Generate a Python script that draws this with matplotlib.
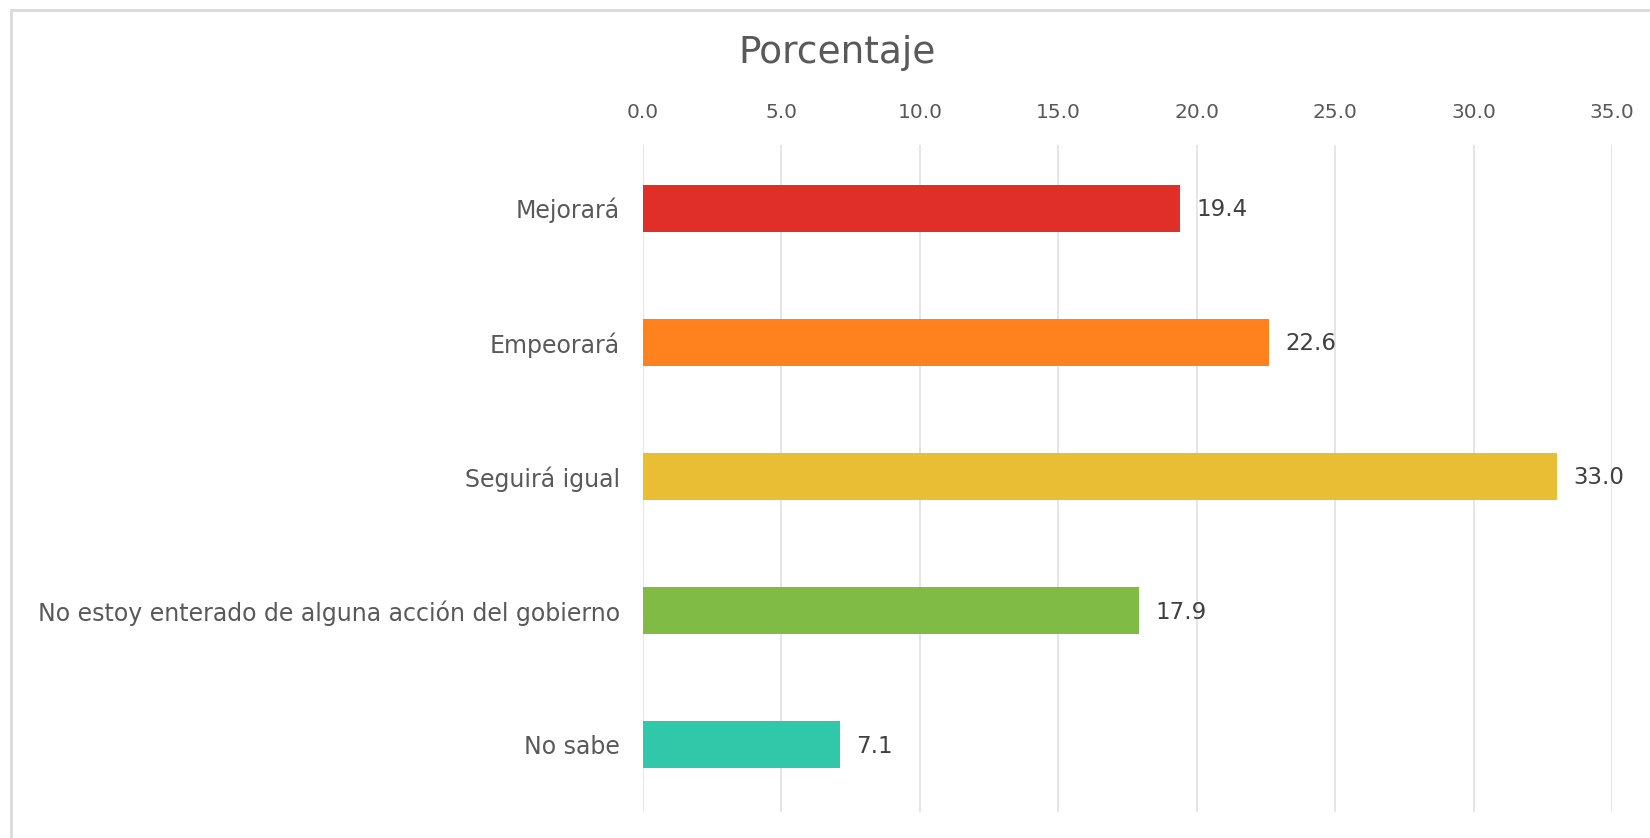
import matplotlib.pyplot as plt
from matplotlib.patches import Rectangle

categorias = ["Mejorará", "Empeorará", "Seguirá igual",
              "No estoy enterado de alguna acción del gobierno", "No sabe"]
valores = [19.4, 22.6, 33.0, 17.9, 7.1]
colores = ["#E02F28", "#FF821E", "#E9BE34", "#80BC45", "#31C7A9"]
ticks = [0, 5, 10, 15, 20, 25, 30, 35]

plt.rcParams['font.family'] = ['DejaVu Sans']

W, H = 1650, 838
fig = plt.figure(figsize=(W / 100, H / 100), dpi=100)

# marco gris del grafico
fig.patches.append(Rectangle((11 / W, -0.1), 1.2, (H - 10) / H + 0.1,
                             transform=fig.transFigure, fill=False,
                             edgecolor="#D9D9D9", lw=2))

ax = fig.add_axes([643 / W, 1 - 812 / H, (1612 - 643) / W, (812 - 145) / H])

y = range(len(categorias))
ax.barh(y, valores, height=0.35, color=colores, zorder=3)

for yi, v in zip(y, valores):
    ax.annotate(f"{v:.1f}", (v, yi), xytext=(12, -1), textcoords="offset points",
                va="center", ha="left", fontsize=16.5, color="#404040")

ax.set_xlim(0, 35)
ax.set_ylim(4.5, -0.47)
ax.set_xticks(ticks)
ax.set_xticklabels([f"{t:.1f}" for t in ticks])
ax.xaxis.tick_top()
ax.set_yticks(list(y))
ax.set_yticklabels(categorias)
ax.tick_params(axis="x", length=0, pad=16.5, labelsize=14.5, labelcolor="#595959")
ax.tick_params(axis="y", length=0, pad=16.5, labelsize=17, labelcolor="#595959")
ax.grid(axis="x", color="#E0E0E0", lw=1.2, zorder=0)
for s in ax.spines.values():
    s.set_visible(False)

fig.text(837 / W, 1 - 53 / H, "Porcentaje", ha="center", va="center",
         fontsize=27, color="#595959")

fig.savefig("out.png", dpi=100)
